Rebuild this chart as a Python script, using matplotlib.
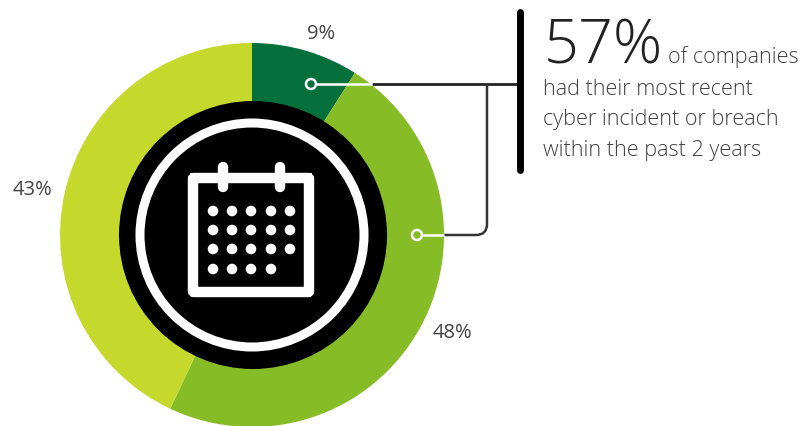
import matplotlib
matplotlib.use("Agg")
import matplotlib.pyplot as plt
from matplotlib.patches import Circle, FancyBboxPatch, PathPatch
from matplotlib.path import Path

# Survey shares: time since the most recent cyber incident
slice_names = ["Within 1 year", "1 to 2 years", "More than 2 years"]
slice_values = [9, 48, 43]
slice_labels = ["9%", "48%", "43%"]
slice_colors = ["#05703C", "#86BC25", "#C5D92D"]
headline_value = "57%"
headline_tail = "of companies"
body_lines = ["had their most recent", "cyber incident or breach", "within the past 2 years"]

W, H = 804, 427
FONT = ["Open Sans", "DejaVu Sans"]


def fy(y):
    """Convert a top-down pixel row to the bottom-up axes coordinate."""
    return H - y


fig = plt.figure(figsize=(W / 100, H / 100), dpi=100, facecolor="white")
ax = fig.add_axes([0, 0, 1, 1])

cx, cy, radius = 252, fy(236), 192
ax.pie(slice_values, colors=slice_colors, startangle=90, counterclock=False,
       center=(cx, cy), radius=radius, frame=True,
       wedgeprops=dict(linewidth=0))

# Black hub with white ring
ax.add_patch(Circle((cx + 1, cy), 134, fc="black", ec="none", zorder=3))
ax.add_patch(Circle((cx, cy), 112, fc="none", ec="white", lw=6.5, zorder=4))

# Calendar icon
ax.add_patch(FancyBboxPatch((193, fy(293)), 116, 114, boxstyle="round,pad=0,rounding_size=1",
                            fc="none", ec="white", lw=7.5, zorder=5))
ax.add_patch(plt.Rectangle((190, fy(184)), 122, 10, fc="white", ec="none", zorder=5))
for ring_x in (223, 280):
    ax.plot([ring_x, ring_x], [fy(168), fy(188)], color="white", lw=7.5,
            solid_capstyle="round", zorder=6)
dot_cols = [213, 232, 251, 271, 290]
dot_rows = [212, 231, 250, 270]
for r, row_y in enumerate(dot_rows):
    for c, col_x in enumerate(dot_cols):
        if r == 3 and c == 4:
            continue
        ax.add_patch(Circle((col_x, fy(row_y)), 5.3, fc="white", ec="none", zorder=6))

# Leader lines joining the two slices to the callout
dark = "#222222"
ax.plot([372, 520], [fy(85), fy(85)], color=dark, lw=2.0, zorder=2, solid_capstyle="butt")
elbow = Path([(444, fy(236)), (476, fy(236)), (487, fy(236)), (487, fy(225)), (487, fy(85))],
             [Path.MOVETO, Path.LINETO, Path.CURVE3, Path.CURVE3, Path.LINETO])
ax.add_patch(PathPatch(elbow, fc="none", ec="#333333", lw=1.8, zorder=2))
for start, end, y in ((311, 372, 85), (417, 444, 236)):
    ax.plot([start, end], [fy(y), fy(y)], color="white", lw=1.8, zorder=3, solid_capstyle="butt")
    ax.add_patch(Circle((start, fy(y)), 5, fc=slice_colors[0] if y == 85 else slice_colors[1],
                        ec="white", lw=1.8, zorder=4))

# Vertical callout bar
ax.plot([520, 520], [fy(13), fy(171)], color="black", lw=5, solid_capstyle="round", zorder=5)

# Slice percentages
label_pos = [(321, 34), (452, 333), (33, 190)]
for text, (x, y) in zip(slice_labels, label_pos):
    ax.text(x, fy(y), text, ha="center", va="center", fontsize=14.5,
            color="#444444", family=FONT)

# Callout text
ax.text(544, fy(63), headline_value, ha="left", va="baseline", fontsize=44,
        color="#222222", family=FONT, fontweight="light")
ax.text(668, fy(63), headline_tail, ha="left", va="baseline", fontsize=15.6,
        color="#404040", family=FONT, fontweight="light")
for line, y in zip(body_lines, (95, 125.5, 156)):
    ax.text(543, fy(y), line, ha="left", va="baseline", fontsize=15.6,
            color="#404040", family=FONT, fontweight="light")

ax.set_xlim(0, W)
ax.set_ylim(0, H)
ax.axis("off")
fig.savefig("out.png", dpi=100, facecolor="white")
